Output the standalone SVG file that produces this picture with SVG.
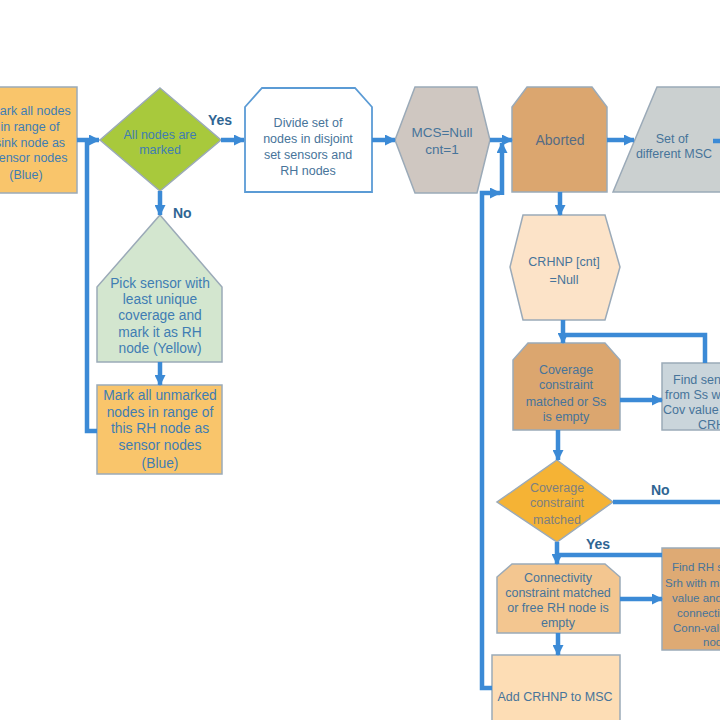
<svg xmlns="http://www.w3.org/2000/svg" width="720" height="720" viewBox="0 0 720 720">
<defs>
<marker id="ah" markerUnits="userSpaceOnUse" markerWidth="11" markerHeight="11" refX="10" refY="5.5" orient="auto">
<path d="M0,0 L11,5.5 L0,11 z" fill="#3B8AD6"/>
</marker>
<style>
.n{stroke:#9BAAB8;stroke-width:1.5}
.t{font-family:"Liberation Sans",Arial,sans-serif;font-size:12.5px;fill:#47749A;text-anchor:middle}
.tb{fill:#3F7DB3}
.big{font-size:13.8px}
.ts{text-anchor:start}
.lbl{font-family:"Liberation Sans",Arial,sans-serif;font-size:14px;font-weight:bold;fill:#2F6593}
.c{fill:none;stroke:#3B8AD6;stroke-width:4.5}
</style>
</defs>
<rect width="720" height="720" fill="#FFFFFF"/>

<g id="mark-sink">
<rect class="n" x="-5" y="87" width="82" height="106" fill="#F9C56B"/>
<text class="t tb" x="30" y="115">Mark all nodes</text>
<text class="t tb" x="30" y="131">in range of</text>
<text class="t tb" x="30" y="147">sink node as</text>
<text class="t tb" x="30" y="162">sensor nodes</text>
<text class="t tb" x="26" y="179">(Blue)</text>
</g>

<g id="all-marked">
<polygon class="n" points="160,88 221,140 160,191 100,140" fill="#A8C93C"/>
<text class="t tb" x="160" y="139">All nodes are</text>
<text class="t tb" x="160" y="154">marked</text>
</g>

<g id="pick-sensor">
<polygon class="n" points="160,215 222,287 222,362 97,362 97,287" fill="#D3E6CF"/>
<text class="t tb big" x="160" y="288">Pick sensor with</text>
<text class="t tb big" x="160" y="304">least unique</text>
<text class="t tb big" x="160" y="320">coverage and</text>
<text class="t tb big" x="160" y="337">mark it as RH</text>
<text class="t tb big" x="160" y="353">node (Yellow)</text>
</g>

<g id="mark-unmarked">
<rect class="n" x="97" y="385" width="125" height="89" fill="#F9C56B"/>
<text class="t tb big" x="160" y="400">Mark all unmarked</text>
<text class="t tb big" x="160" y="417">nodes in range of</text>
<text class="t tb big" x="160" y="433">this RH node as</text>
<text class="t tb big" x="160" y="450">sensor nodes</text>
<text class="t tb big" x="160" y="468">(Blue)</text>
</g>

<g id="divide">
<polygon points="245,107 262,88 355,88 372,107 372,192 245,192" fill="#FFFFFF" stroke="#5B9BD5" stroke-width="1.8"/>
<text class="t" x="308" y="127">Divide set of</text>
<text class="t" x="308" y="143">nodes in disjoint</text>
<text class="t" x="308" y="159">set sensors and</text>
<text class="t" x="308" y="175">RH nodes</text>
</g>

<g id="mcs">
<polygon class="n" points="395,140 415,87 477,87 490,140 477,193 415,193" fill="#CFC7C1"/>
<text class="t" x="442" y="137" style="font-size:13.5px">MCS=Null</text>
<text class="t" x="442" y="154" style="font-size:13.5px">cnt=1</text>
</g>

<g id="aborted">
<polygon class="n" points="512,107 527,87 592,87 607,107 607,192 512,192" fill="#DBA66F"/>
<text class="t" x="560" y="145" style="font-size:14px;fill:#566C84">Aborted</text>
</g>

<g id="set-msc">
<polygon class="n" points="613,192 657,87 770,87 726,192" fill="#CBD0D0"/>
<text class="t" x="672" y="143">Set of</text>
<text class="t" x="674" y="158">different MSC</text>
</g>

<g id="crhnp">
<polygon class="n" points="523,215 605,215 620,267 605,320 523,320 510,267" fill="#FCE3C8"/>
<text class="t" x="564" y="266">CRHNP [cnt]</text>
<text class="t" x="564" y="284">=Null</text>
</g>

<g id="coverage-or-empty">
<polygon class="n" points="513,360 528,343 605,343 620,360 620,430 513,430" fill="#DBA66F"/>
<text class="t" x="566" y="374">Coverage</text>
<text class="t" x="566" y="389">constraint</text>
<text class="t" x="566" y="406">matched or Ss</text>
<text class="t" x="566" y="421">is empty</text>
</g>

<g id="find-sensor">
<rect class="n" x="662" y="363" width="90" height="67" fill="#CAD5DB"/>
<text class="t ts" x="673" y="384">Find sensor</text>
<text class="t ts" x="665" y="399">from   Ss with</text>
<text class="t ts" x="663" y="414">Cov value</text>
<text class="t ts" x="698" y="429">CRHNP</text>
</g>

<g id="coverage-matched">
<polygon class="n" points="557,460 613,502 557,542 497,502" fill="#F5B335"/>
<text class="t" x="557" y="492" style="fill:#7D7F80">Coverage</text>
<text class="t" x="557" y="507" style="fill:#7D7F80">constraint</text>
<text class="t" x="557" y="524" style="fill:#7D7F80">matched</text>
</g>

<g id="connectivity">
<polygon class="n" points="497,577 512,564 605,564 620,577 620,633 497,633" fill="#F3C690"/>
<text class="t" x="558" y="582">Connectivity</text>
<text class="t" x="558" y="597">constraint matched</text>
<text class="t" x="558" y="612">or free RH node is</text>
<text class="t" x="558" y="627">empty</text>
</g>

<g id="find-rh">
<rect class="n" x="662" y="548" width="90" height="102" fill="#DEAA74"/>
<text class="t ts" x="672" y="571" style="font-size:11.5px">Find RH sensor</text>
<text class="t ts" x="665" y="587" style="font-size:11.5px">Srh with max</text>
<text class="t ts" x="672" y="602" style="font-size:11.5px">value  and</text>
<text class="t ts" x="677" y="617" style="font-size:11.5px">connectivity</text>
<text class="t ts" x="673" y="632" style="font-size:11.5px">Conn-value</text>
<text class="t ts" x="703" y="646" style="font-size:11.5px">node</text>
</g>

<g id="add-crhnp">
<rect class="n" x="492" y="655" width="128" height="80" fill="#FDDDB5"/>
<text class="t" x="555" y="701">Add CRHNP to MSC</text>
</g>

<g id="connectors">
<line class="c" x1="77" y1="140" x2="99" y2="140" marker-end="url(#ah)"/>
<polyline class="c" points="97,431 87,431 87,140"/>
<line class="c" x1="160" y1="191" x2="160" y2="215" marker-end="url(#ah)"/>
<line class="c" x1="160" y1="362" x2="160" y2="385" marker-end="url(#ah)"/>
<line class="c" x1="221" y1="140" x2="244" y2="140" marker-end="url(#ah)"/>
<line class="c" x1="372" y1="140" x2="395" y2="140" marker-end="url(#ah)"/>
<line class="c" x1="490" y1="140" x2="512" y2="140" marker-end="url(#ah)"/>
<line class="c" x1="607" y1="140" x2="634" y2="140" marker-end="url(#ah)"/>
<line class="c" x1="713" y1="141" x2="722" y2="141"/>
<line class="c" x1="560" y1="192" x2="560" y2="215" marker-end="url(#ah)"/>
<line class="c" x1="563" y1="320" x2="563" y2="343" marker-end="url(#ah)"/>
<polyline class="c" points="705,363 705,335 563,335"/>
<line class="c" x1="620" y1="400" x2="662" y2="400" marker-end="url(#ah)"/>
<line class="c" x1="558" y1="430" x2="558" y2="460" marker-end="url(#ah)"/>
<line class="c" x1="613" y1="502" x2="722" y2="502"/>
<line class="c" x1="557" y1="542" x2="557" y2="564" marker-end="url(#ah)"/>
<line class="c" x1="662" y1="555" x2="557" y2="555"/>
<line class="c" x1="620" y1="599" x2="662" y2="599" marker-end="url(#ah)"/>
<line class="c" x1="558" y1="633" x2="558" y2="655" marker-end="url(#ah)"/>
<polyline class="c" points="492,688 482,688 482,193 500,193" marker-end="url(#ah)"/>
<polyline class="c" points="502,195 502,143" marker-end="url(#ah)"/>
</g>

<g id="labels">
<text class="lbl" x="208" y="125">Yes</text>
<text class="lbl" x="173" y="218">No</text>
<text class="lbl" x="651" y="495">No</text>
<text class="lbl" x="586" y="549">Yes</text>
</g>
</svg>
